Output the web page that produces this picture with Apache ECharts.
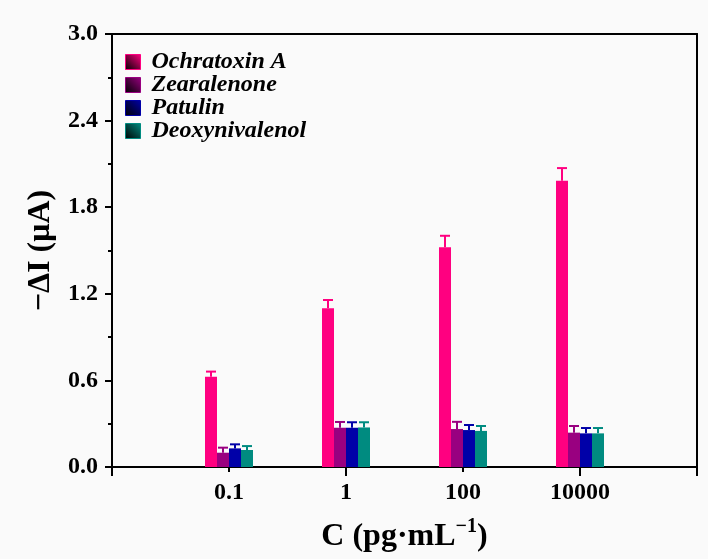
<!DOCTYPE html>
<html>
<head>
<meta charset="utf-8">
<script src="https://cdn.jsdelivr.net/npm/echarts@6/dist/echarts.min.js"></script>
<style>
  body { margin: 0; background: #fafafa; }
  #chart { width: 708px; height: 559px; }
</style>
</head>
<body>
<div id="chart"></div>
<script>
// concentrations, one group per x position
const categories = ['0.1', '1', '100', '10000'];
const positions = [1, 2, 3, 4];

const names = ['Ochratoxin A', 'Zearalenone', 'Patulin', 'Deoxynivalenol'];
const colors = ['#ff0080', '#990080', '#0000a8', '#008b80'];

// -ΔI (µA)
const ochratoxin = [0.626, 1.10, 1.522, 1.984];
const zearalenone = [0.099, 0.272, 0.263, 0.238];
const patulin = [0.129, 0.272, 0.256, 0.233];
const deoxynivalenol = [0.118, 0.274, 0.250, 0.233];

// error bars (upper half only is drawn)
const ochratoxinErr = [0.035, 0.057, 0.080, 0.087];
const zearalenoneErr = [0.035, 0.040, 0.050, 0.046];
const patulinErr = [0.028, 0.038, 0.035, 0.037];
const deoxynivalenolErr = [0.027, 0.036, 0.034, 0.037];

const values = [ochratoxin, zearalenone, patulin, deoxynivalenol];
const errors = [ochratoxinErr, zearalenoneErr, patulinErr, deoxynivalenolErr];

const FONT = 'Liberation Serif';
const BAR_W = 12;

const chart = echarts.init(document.getElementById('chart'));

function iconGradient(c) {
  return new echarts.graphic.LinearGradient(1, 0, 0, 1, [
    { offset: 0, color: c },
    { offset: 1, color: '#000' }
  ]);
}

const series = [];
names.forEach((name, i) => {
  series.push({
    name: name,
    type: 'bar',
    barWidth: BAR_W,
    barGap: '0%',
    data: positions.map((p, j) => [p, values[i][j]]),
    itemStyle: { color: colors[i] },
    z: 2
  });
});
names.forEach((name, i) => {
  const offset = (i - 1.5) * BAR_W;
  series.push({
    name: name,
    type: 'custom',
    data: positions.map((p, j) => [p, values[i][j], errors[i][j]]),
    renderItem: (params, api) => {
      const x = api.value(0), y = api.value(1), e = api.value(2);
      const p0 = api.coord([x, y]);
      const p1 = api.coord([x, y + e]);
      const cx = p0[0] + offset;
      const style = { stroke: colors[i], lineWidth: 2 };
      return {
        type: 'group',
        children: [
          { type: 'line', shape: { x1: cx, y1: p0[1], x2: cx, y2: p1[1] }, style: style },
          { type: 'line', shape: { x1: cx - 5, y1: p1[1], x2: cx + 5, y2: p1[1] }, style: style }
        ]
      };
    },
    z: 3
  });
});

const option = {
  backgroundColor: '#fafafa',
  animation: false,
  grid: { left: 112, right: 11, top: 34, bottom: 92 },
  legend: {
    orient: 'vertical',
    left: 125,
    top: 50,
    padding: 0,
    itemWidth: 15,
    itemHeight: 15,
    itemGap: -1,
    icon: 'rect',
    data: names.map((n, i) => ({
      name: n,
      itemStyle: { color: iconGradient(colors[i]), borderColor: colors[i], borderWidth: 1 }
    })),
    textStyle: {
      fontFamily: FONT, fontSize: 24, lineHeight: 22, fontWeight: 'bold', fontStyle: 'italic', color: '#000',
      padding: [0, 0, 0, 6]
    }
  },
  xAxis: [{
    type: 'value',
    min: 0,
    max: 5,
    interval: 2,
    name: '{a|C (pg·mL}{s|−1}{a|)}',
    nameLocation: 'middle',
    nameGap: 50,
    nameTextStyle: {
      rich: {
        a: { fontFamily: FONT, fontSize: 32, fontWeight: 'bold', color: '#000', verticalAlign: 'bottom', lineHeight: 36 },
        s: { fontFamily: FONT, fontSize: 20, fontWeight: 'bold', color: '#000', verticalAlign: 'top', lineHeight: 36, padding: [0, 0, 16, 0] }
      }
    },
    splitLine: { show: false },
    axisLine: { show: true, lineStyle: { color: '#000', width: 2 } },
    axisTick: { length: 9, lineStyle: { color: '#000', width: 2 } },
    minorTick: { show: true, splitNumber: 2, length: 5, lineStyle: { color: '#000', width: 2 } },
    axisLabel: {
      customValues: positions,
      margin: 14,
      fontFamily: FONT, fontSize: 24, fontWeight: 'bold', color: '#000',
      formatter: v => categories[positions.indexOf(v)] || ''
    }
  }, {
    type: 'value',
    position: 'top',
    min: 0,
    max: 5,
    axisLine: { show: true, onZero: false, lineStyle: { color: '#000', width: 2 } },
    axisTick: { show: false },
    axisLabel: { show: false },
    splitLine: { show: false }
  }],
  yAxis: [{
    type: 'value',
    min: 0,
    max: 3,
    interval: 0.6,
    name: '−ΔI (μA)',
    nameLocation: 'middle',
    nameGap: 51,
    nameTextStyle: { fontFamily: FONT, fontSize: 32, fontWeight: 'bold', color: '#000' },
    splitLine: { show: false },
    axisLine: { show: true, onZero: false, lineStyle: { color: '#000', width: 2 } },
    axisTick: { show: true, length: 7, lineStyle: { color: '#000', width: 2 } },
    minorTick: { show: true, splitNumber: 2, length: 4, lineStyle: { color: '#000', width: 2 } },
    axisLabel: {
      margin: 14,
      fontFamily: FONT, fontSize: 24, fontWeight: 'bold', color: '#000',
      formatter: v => v.toFixed(1)
    }
  }, {
    type: 'value',
    position: 'right',
    min: 0,
    max: 3,
    axisLine: { show: true, onZero: false, lineStyle: { color: '#000', width: 2 } },
    axisTick: { show: false },
    axisLabel: { show: false },
    splitLine: { show: false }
  }],
  series: series
};

chart.setOption(option);
</script>
</body>
</html>
